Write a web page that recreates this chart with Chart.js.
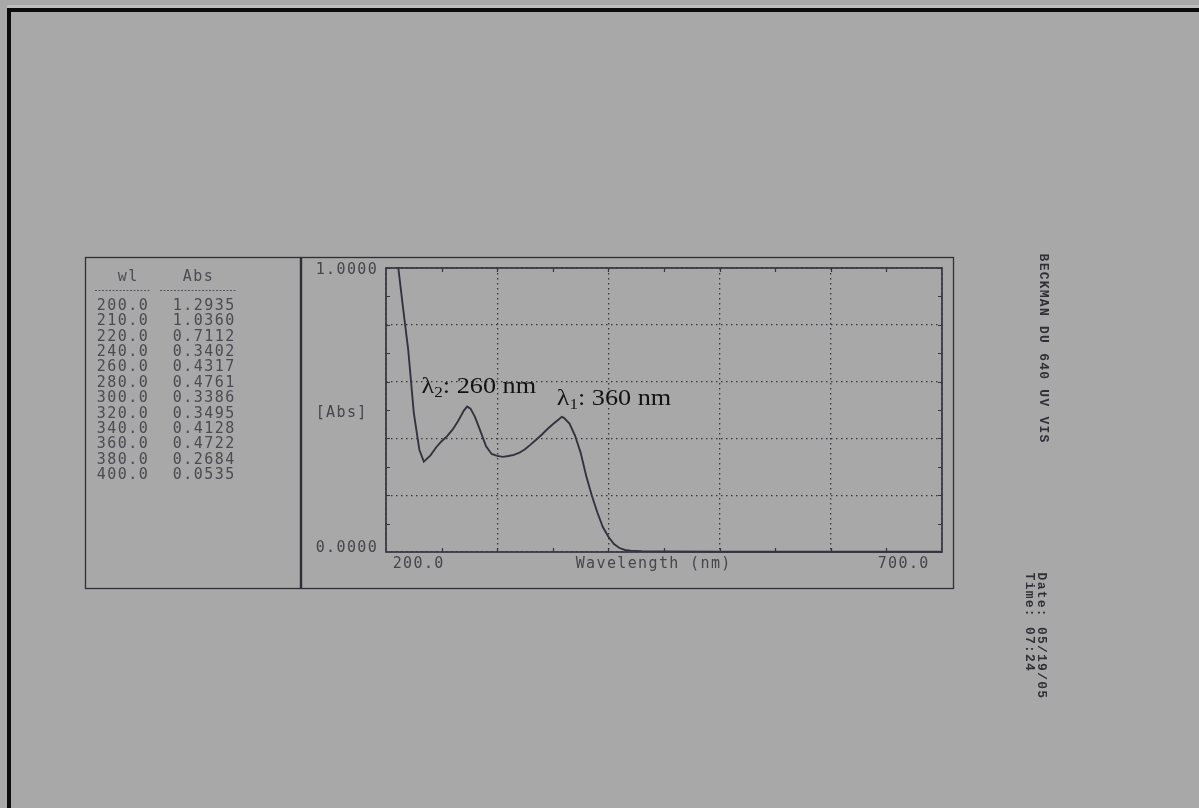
<!DOCTYPE html>
<html>
<head>
<meta charset="utf-8">
<script src="https://cdn.jsdelivr.net/npm/chart.js@4.4.1/dist/chart.umd.min.js"></script>
<style>
  html, body { margin: 0; padding: 0; background: #a9a9a9; }
  #wrap { width: 1199px; height: 808px; position: relative; }
</style>
</head>
<body>
<div id="wrap"><canvas id="spec" width="1199" height="808"></canvas></div>
<script>
// Absorbance scan, 200–700 nm
const wavelengths = [200, 205, 210, 215, 220, 225, 230, 234, 240, 245, 250, 255, 260, 265, 270, 273, 276, 280, 285, 290, 295, 300, 305, 310, 315, 320, 325, 330, 335, 340, 345, 350, 355, 358, 360, 365, 370, 375, 380, 385, 390, 395, 400, 405, 410, 415, 420, 430, 450, 500, 550, 600, 650, 700];
const absorbance  = [1.2935, 1.16, 1.036, 0.87, 0.7112, 0.49, 0.36, 0.318, 0.3402, 0.368, 0.39, 0.408, 0.4317, 0.462, 0.498, 0.512, 0.505, 0.4761, 0.425, 0.372, 0.345, 0.3386, 0.335, 0.338, 0.342, 0.3495, 0.362, 0.378, 0.395, 0.4128, 0.432, 0.45, 0.466, 0.476, 0.4722, 0.452, 0.41, 0.35, 0.2684, 0.2, 0.14, 0.088, 0.0535, 0.028, 0.014, 0.007, 0.005, 0.003, 0.002, 0.001, 0.001, 0.001, 0.001, 0.001];

// Printed readout table
const tableHeader = ['wl', 'Abs'];
const tableWl  = ['200.0', '210.0', '220.0', '240.0', '260.0', '280.0', '300.0', '320.0', '340.0', '360.0', '380.0', '400.0'];
const tableAbs = ['1.2935', '1.0360', '0.7112', '0.3402', '0.4317', '0.4761', '0.3386', '0.3495', '0.4128', '0.4722', '0.2684', '0.0535'];

// Axis texts
const yTickLabels = ['1.0000', '0.0000'];
const xTickLabels = ['200.0', '700.0'];
const xTitle = 'Wavelength (nm)';
const yTitle = '[Abs]';

// Peak notes
const peakNotes = [
  { sym: 'λ', sub: '2', rest: ': 260 nm', at: [232, 0.56] },
  { sym: 'λ', sub: '1', rest: ': 360 nm', at: [353.5, 0.517] }
];

// Side print
const instrument = 'BECKMAN DU 640 UV VIS';
const dateLine = 'Date: 05/19/05';
const timeLine = 'Time: 07:24';

const INK = '#363642';
const MONO = '"DejaVu Sans Mono", monospace';

function drawMono(ctx, text, x, y, adv, color) {
  ctx.fillStyle = color;
  ctx.textAlign = 'center';
  ctx.textBaseline = 'middle';
  for (let i = 0; i < text.length; i++) {
    ctx.fillText(text[i], x + adv * i + adv / 2, y);
  }
}

const printout = {
  id: 'printout',
  beforeDraw(chart) {
    const ctx = chart.ctx;
    ctx.save();
    ctx.fillStyle = '#a8a8a8';
    ctx.fillRect(0, 0, chart.width, chart.height);
    // photo frame edge
    ctx.fillStyle = '#bdbdbd';
    ctx.fillRect(7, 5, 1192, 3);
    ctx.fillStyle = '#0b0b0b';
    ctx.fillRect(7, 8, 1192, 4);
    ctx.fillRect(7, 8, 4, 800);

    // outer box and divider
    ctx.strokeStyle = '#2e2e36';
    ctx.lineWidth = 1.3;
    ctx.strokeRect(85.5, 257.5, 868, 331);
    ctx.lineWidth = 2.4;
    ctx.beginPath();
    ctx.moveTo(301, 257);
    ctx.lineTo(301, 589);
    ctx.stroke();

    // table
    ctx.font = '15px ' + MONO;
    const adv = 10.5;
    drawMono(ctx, tableHeader[0], 117, 277, adv, '#4c4c54');
    drawMono(ctx, tableHeader[1], 182, 277, adv, '#4c4c54');
    ctx.strokeStyle = '#55555c';
    ctx.lineWidth = 1;
    ctx.setLineDash([2, 1.5]);
    ctx.beginPath();
    ctx.moveTo(95, 290.5); ctx.lineTo(150, 290.5);
    ctx.moveTo(160, 290.5); ctx.lineTo(237, 290.5);
    ctx.stroke();
    ctx.setLineDash([]);
    for (let i = 0; i < tableWl.length; i++) {
      const y = 306 + i * 15.4;
      drawMono(ctx, tableWl[i], 96, y, adv, '#4a4a52');
      drawMono(ctx, tableAbs[i], 172, y, adv, '#4a4a52');
    }
    ctx.restore();
  },
  afterDraw(chart) {
    const ctx = chart.ctx;
    const { left, right, top, bottom } = chart.chartArea;
    const xs = chart.scales.x, ys = chart.scales.y;
    ctx.save();

    // plot frame
    ctx.strokeStyle = INK;
    ctx.lineWidth = 1.7;
    ctx.strokeRect(left, top, right - left, bottom - top);

    // minor ticks
    ctx.lineWidth = 1.2;
    ctx.beginPath();
    for (let v = 0.1; v < 1; v += 0.1) {
      const py = Math.round(ys.getPixelForValue(v)) + 0.5;
      ctx.moveTo(left, py); ctx.lineTo(left + 4, py);
      ctx.moveTo(right, py); ctx.lineTo(right - 4, py);
    }
    for (let w = 250; w < 700; w += 50) {
      const px = Math.round(xs.getPixelForValue(w)) + 0.5;
      ctx.moveTo(px, bottom); ctx.lineTo(px, bottom - 4);
      ctx.moveTo(px, top); ctx.lineTo(px, top + 4);
    }
    ctx.stroke();

    // axis texts
    ctx.font = '15px ' + MONO;
    const adv = 10.4;
    drawMono(ctx, yTickLabels[0], left - 71, ys.getPixelForValue(1) + 2, adv, '#45454d');
    drawMono(ctx, yTickLabels[1], left - 71, ys.getPixelForValue(0) - 4, adv, '#45454d');
    drawMono(ctx, yTitle, left - 71, ys.getPixelForValue(0.49), adv, '#45454d');
    const ly = bottom + 12;
    drawMono(ctx, xTickLabels[0], xs.getPixelForValue(200) + 6, ly, adv, '#45454d');
    drawMono(ctx, xTitle, xs.getPixelForValue(370), ly, adv, '#45454d');
    drawMono(ctx, xTickLabels[1], xs.getPixelForValue(700) - 13 - adv * 5, ly, adv, '#45454d');

    // peak notes
    ctx.fillStyle = '#121212';
    ctx.textAlign = 'left';
    ctx.textBaseline = 'alphabetic';
    for (const n of peakNotes) {
      const px = xs.getPixelForValue(n.at[0]);
      const py = ys.getPixelForValue(n.at[1]);
      ctx.save();
      ctx.translate(px, py);
      ctx.scale(1.14, 1.04);
      ctx.font = '23px "Liberation Serif", serif';
      ctx.fillText(n.sym, 0, 0);
      let x = ctx.measureText(n.sym).width;
      ctx.font = '15px "Liberation Serif", serif';
      ctx.fillText(n.sub, x, 4);
      x += ctx.measureText(n.sub).width;
      ctx.font = '23px "Liberation Serif", serif';
      ctx.fillText(n.rest, x, 0);
      ctx.restore();
    }

    // rotated side print
    ctx.font = 'bold 13px "Liberation Mono", monospace';
    const sideAdv = 9.05;
    const vertical = (text, cx, y0, color) => {
      ctx.save();
      ctx.translate(cx, y0);
      ctx.rotate(Math.PI / 2);
      drawMono(ctx, text, 0, 0, sideAdv, color);
      ctx.restore();
    };
    vertical(instrument, 1043, 253, '#2f2f38');
    vertical(dateLine, 1041, 572, '#2f2f38');
    vertical(timeLine, 1029, 572, '#2f2f38');

    ctx.restore();
  }
};

const gridOpts = { color: 'rgba(46,46,58,0.92)', lineWidth: 1.3, drawTicks: false };

new Chart(document.getElementById('spec'), {
  type: 'line',
  data: {
    datasets: [{
      data: wavelengths.map((w, i) => ({ x: w, y: absorbance[i] })),
      borderColor: '#33333f',
      borderWidth: 1.9,
      pointRadius: 0,
      tension: 0,
      clip: 1
    }]
  },
  options: {
    responsive: false,
    animation: false,
    devicePixelRatio: 1,
    layout: { padding: { left: 386, top: 268, right: 257, bottom: 256 } },
    plugins: { legend: { display: false }, tooltip: { enabled: false } },
    scales: {
      x: {
        type: 'linear', min: 200, max: 700,
        ticks: { display: false, stepSize: 100 },
        grid: gridOpts,
        border: { display: false, dash: [1.5, 3.5] },
        afterFit: s => { s.height = 0; }
      },
      y: {
        min: 0, max: 1,
        ticks: { display: false, stepSize: 0.2 },
        grid: gridOpts,
        border: { display: false, dash: [1.5, 3.5] },
        afterFit: s => { s.width = 0; }
      }
    }
  },
  plugins: [printout]
});
</script>
</body>
</html>
